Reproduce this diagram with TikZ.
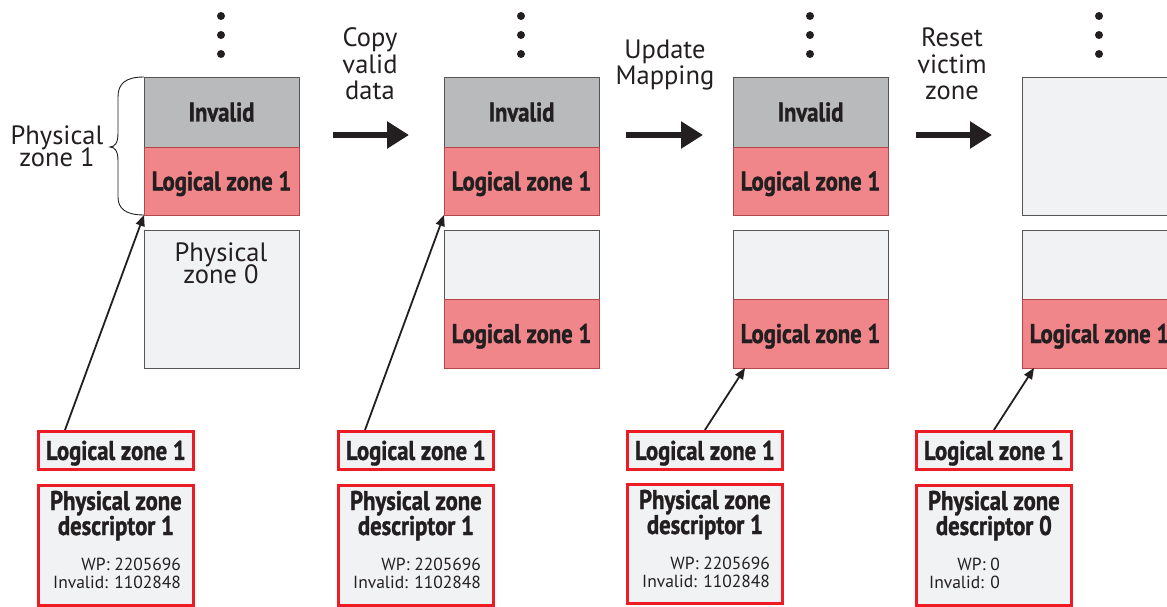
\documentclass[tikz,border=0pt]{standalone}
\usepackage{fontspec}
\setmainfont{PT Sans}
\newfontfamily\condbf[FakeStretch=0.84, BoldFeatures={FakeBold=1.2}]{PT Sans}
\usetikzlibrary{arrows.meta,calc}

\definecolor{ink}{HTML}{231F20}
\definecolor{invgray}{HTML}{B9BABC}
\definecolor{lzred}{HTML}{F0868A}
\definecolor{lzedge}{HTML}{B5464C}
\definecolor{freegray}{HTML}{F1F2F4}
\definecolor{descred}{HTML}{ED1C24}
\definecolor{edge}{HTML}{555555}

\begin{document}
\begin{tikzpicture}[x=1pt,y=-1pt,
  seg/.style={minimum width=155pt, anchor=north west, inner sep=0pt, outer sep=0pt,
    line width=0.9pt, text=ink, text height=19pt, text depth=0pt,
    font=\condbf\bfseries\fontsize{27}{30}\selectfont},
  invseg/.style={seg, fill=invgray, draw=edge},
  lzseg/.style={seg, fill=lzred, draw=lzedge},
  freeseg/.style={seg, fill=freegray, draw=edge},
  reg/.style={text=ink, inner sep=0pt, align=center, font=\fontsize{26.5}{26.5}\selectfont},
  zonelabel/.style={text=ink, inner sep=0pt, align=center,
    font={\fontsize{26.5}{21.5}\selectfont\lineskiplimit=-30pt}},
  dot/.style={circle, fill=ink, inner sep=0pt, minimum size=8pt},
  bigarrow/.style={draw=ink, line width=5.5pt, -{Triangle[length=22pt,width=26pt]}},
  ptr/.style={draw=ink, line width=1.8pt, -{Triangle[length=11pt,width=9pt]}},
  descbox/.style={draw=descred, line width=2.8pt, fill=freegray, minimum width=155pt,
    anchor=north west, inner sep=0pt, text=ink, text height=19pt, text depth=0pt,
    font=\condbf\bfseries\fontsize{27}{30}\selectfont},
  desctitle/.style={text=ink, inner sep=0pt, align=center,
    font=\condbf\bfseries\fontsize{27}{25}\selectfont},
  descinfo/.style={text=ink, inner sep=0pt, align=right,
    font=\fontsize{17.5}{18}\selectfont},
]
\useasboundingbox (0,0) rectangle (1167,607);
\clip (0,0) rectangle (1167,607);

% ---- stacks of zones ----
% step 1
\node[invseg, minimum height=70pt] (g1) at (144,77) {Invalid};
\node[lzseg, minimum height=68pt] (r1) at (144,147) {Logical zone 1};
\node[freeseg, minimum height=138pt] (f1) at (144,230) {};
\node[zonelabel, anchor=base] (pz0) at (221,283) {Physical\\zone 0};

% step 2
\node[invseg, minimum height=70pt] (g2) at (444,77) {Invalid};
\node[lzseg, minimum height=68pt] (r2) at (444,147) {Logical zone 1};
\node[freeseg, minimum height=69pt] (f2) at (444,230) {};
\node[lzseg, minimum height=69pt] (r2b) at (444,299) {Logical zone 1};

% step 3
\node[invseg, minimum height=70pt] (g3) at (733,77) {Invalid};
\node[lzseg, minimum height=68pt] (r3) at (733,147) {Logical zone 1};
\node[freeseg, minimum height=69pt] (f3) at (733,230) {};
\node[lzseg, minimum height=69pt] (r3b) at (733,299) {Logical zone 1};

% step 4
\node[freeseg, minimum height=138pt] (f4) at (1022,77) {};
\node[freeseg, minimum height=69pt] (f4b) at (1022,230) {};
\node[lzseg, minimum height=69pt] (r4b) at (1022,299) {Logical zone 1};

% ellipsis dots above each stack
\foreach \cx in {221,521,810,1099}{
  \node[dot] at (\cx,16) {};
  \node[dot] at (\cx,35) {};
  \node[dot] at (\cx,54) {};
}

% brace marking physical zone 1
\draw[ink, line width=0.9pt]
  (g1.north west) .. controls (125,77) and (118,84) .. (118,97)
  -- (118,133) .. controls (118,143) and (115,147) .. (110,147)
  .. controls (115,147) and (118,151) .. (118,161)
  -- (118,197) .. controls (118,208) and (125,215) .. (r1.south west);
\node[zonelabel, anchor=base] (pz1) at (57,166) {Physical\\zone 1};

% ---- transitions ----
\coordinate (a1s) at (333,135); \coordinate (a1e) at (409,135);
\coordinate (a2s) at (626,135); \coordinate (a2e) at (703,135);
\coordinate (a3s) at (916,135); \coordinate (a3e) at (992,135);
\draw[bigarrow] (a1s) -- (a1e);
\draw[bigarrow] (a2s) -- (a2e);
\draw[bigarrow] (a3s) -- (a3e);
\node[reg, anchor=base] (t1) at (370,100) {Copy\\valid\\data};
\node[reg, anchor=base] (t2) at (665,85) {Update\\Mapping};
\node[reg, anchor=base] (t3) at (952,100) {Reset\\victim\\zone};

% ---- descriptors ----
\node[descbox, minimum height=38pt] (lz1) at (37,430) {Logical zone 1};
\node[descbox, minimum height=38pt] (lz2) at (337,430) {Logical zone 1};
\node[descbox, minimum height=38pt] (lz3) at (626,430) {Logical zone 1};
\node[descbox, minimum height=38pt] (lz4) at (915,430) {Logical zone 1};

\node[descbox, minimum height=120pt] (pd1) at (37,484) {};
\node[descbox, minimum height=120pt] (pd2) at (337,484) {};
\node[descbox, minimum height=119pt] (pd3) at (626,483) {};
\node[descbox, minimum height=120pt] (pd4) at (915,484) {};

\node[desctitle, anchor=base] at ($(pd1.north)+(0,51)$) {Physical zone\\descriptor 1};
\node[desctitle, anchor=base] at ($(pd2.north)+(0,51)$) {Physical zone\\descriptor 1};
\node[desctitle, anchor=base] at ($(pd3.north)+(0,51)$) {Physical zone\\descriptor 1};
\node[desctitle, anchor=base] at ($(pd4.north)+(0,51)$) {Physical zone\\descriptor 0};

\node[descinfo, anchor=base west] at ($(pd1.north west)+(16,104)$) {WP: 2205696\\Invalid: 1102848};
\node[descinfo, anchor=base west] at ($(pd2.north west)+(16,104)$) {WP: 2205696\\Invalid: 1102848};
\node[descinfo, anchor=base west] at ($(pd3.north west)+(16,104)$) {WP: 2205696\\Invalid: 1102848};
\node[descinfo, anchor=base west] at ($(pd4.north west)+(14,104)$) {WP: 0\\Invalid: 0};

% ---- pointers from logical descriptors to their data ----
\draw[ptr] ($(lz1.north west)+(28,0)$) -- (r1.south west);
\draw[ptr] ($(lz2.north west)+(28,0)$) -- (r2.south west);
\draw[ptr] (lz3.north) -- ($(r3b.south west)+(12,0)$);
\draw[ptr] (lz4.north) -- ($(r4b.south west)+(12,0)$);
\end{tikzpicture}
\end{document}
